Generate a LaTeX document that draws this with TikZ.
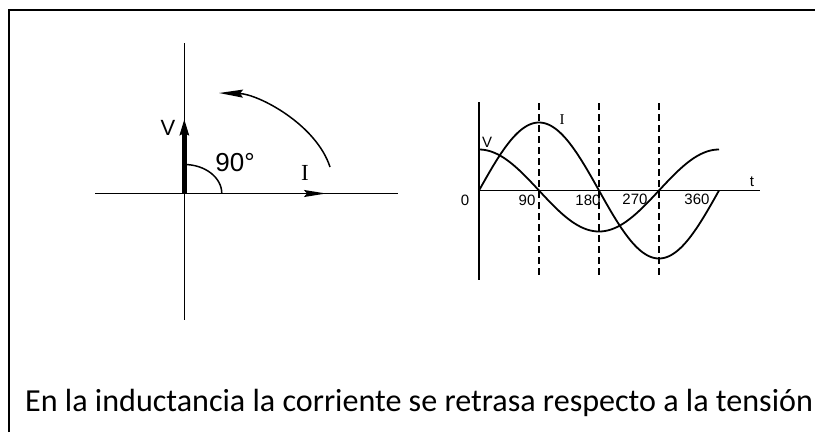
\documentclass[tikz,border=0pt]{standalone}
\usepackage{fontspec}
\setmainfont{Liberation Sans}
\newfontfamily\calfont{Carlito}
\newfontfamily\serfont{Liberation Serif}
\usetikzlibrary{arrows.meta}
\tikzset{
  frame/.style={line width=2pt},
  axis/.style={line width=1.4pt},
  wave/.style={line width=1.8pt},
  guide/.style={line width=1.5pt, dash pattern=on 7pt off 4pt},
  biglbl/.style={inner sep=0pt, font=\fontsize{22}{24}\selectfont},
  smalllbl/.style={inner sep=0pt, font=\fontsize{15}{17}\selectfont},
  tip/.style={-{Stealth[length=22pt,width=7pt,inset=3pt]}}
}
\begin{document}
\begin{tikzpicture}[x=1pt,y=-1pt]
\useasboundingbox (0,0) rectangle (815,432);
% frame
\draw[frame] (9,432) -- (9,10) -- (815,10);
% ---------- phasor diagram ----------
\coordinate (O) at (184.3,193.5);
\coordinate (hl) at (95,193.5);
\coordinate (hr) at (398,193.5);
\coordinate (vt) at (184.3,43);
\coordinate (vb) at (184.3,320);
\coordinate (Vtip) at (184.3,119);
\coordinate (Itip) at (326,193.5);
\coordinate (arcS) at (330,167);
\coordinate (arcE) at (219,93);
\draw[axis] (hl) -- (hr);
\draw[axis] (vt) -- (vb);
\draw[line width=5pt,-{Stealth[length=16pt,width=9pt,inset=2pt]}] (O) -- (Vtip);
\draw[axis,tip] (O) -- (Itip);
\draw[line width=1.5pt] (221.8,193.5) .. controls (221.8,177.5) and (205,164.5) .. (184.3,164.5);
\draw[line width=1.5pt,-{Stealth[length=24pt,width=8pt,inset=3pt]}] (arcS) .. controls (316,124) and (258,94) .. (arcE);
\node[biglbl] (Vlbl) at (168,128) {V};
\node[inner sep=0pt, font=\fontsize{26}{28}\selectfont] (deg) at (235,163) {90°};
\node[inner sep=0pt, font=\serfont\fontsize{23}{25}\selectfont] (Ilbl) at (305,173) {I};
% ---------- waveforms ----------
\coordinate (wO) at (479,190.5);
\coordinate (wt) at (479,102);
\coordinate (wb) at (479,280);
\coordinate (wr) at (760,190.5);
\draw[wave] (wt) -- (wb);
\draw[wave] (wO) -- (wr);
\foreach \xx/\nm in {539/d1,599/d2,659/d3}{
  \coordinate (\nm t) at (\xx,103);
  \coordinate (\nm b) at (\xx,278);
  \draw[guide] (\nm t) -- (\nm b);
}
\draw[wave] plot[domain=0:360, samples=120, smooth] ({479+\x*0.6666667},{190.5-68*sin(\x)});
\draw[wave] plot[domain=0:360, samples=120, smooth] ({479+\x*0.6666667},{190.5-41*cos(\x)});
\node[smalllbl] (wV) at (487,142) {V};
\node[inner sep=0pt, font=\serfont\fontsize{15}{17}\selectfont] (wI) at (562,120) {I};
\node[smalllbl] (l0) at (465,200) {0};
\node[smalllbl] (l90) at (527,200) {90};
\node[smalllbl] (l180) at (588,200) {180};
\node[smalllbl] (l270) at (635,199) {270};
\node[smalllbl] (l360) at (697,199) {360};
\node[smalllbl] (lt) at (752,182) {t};
% ---------- caption ----------
\node[anchor=base west, inner sep=0pt, font=\calfont\fontsize{32.1}{36}\selectfont] (cap) at (25,411.3) {En la inductancia la corriente se retrasa respecto a la tensión};
\end{tikzpicture}
\end{document}
